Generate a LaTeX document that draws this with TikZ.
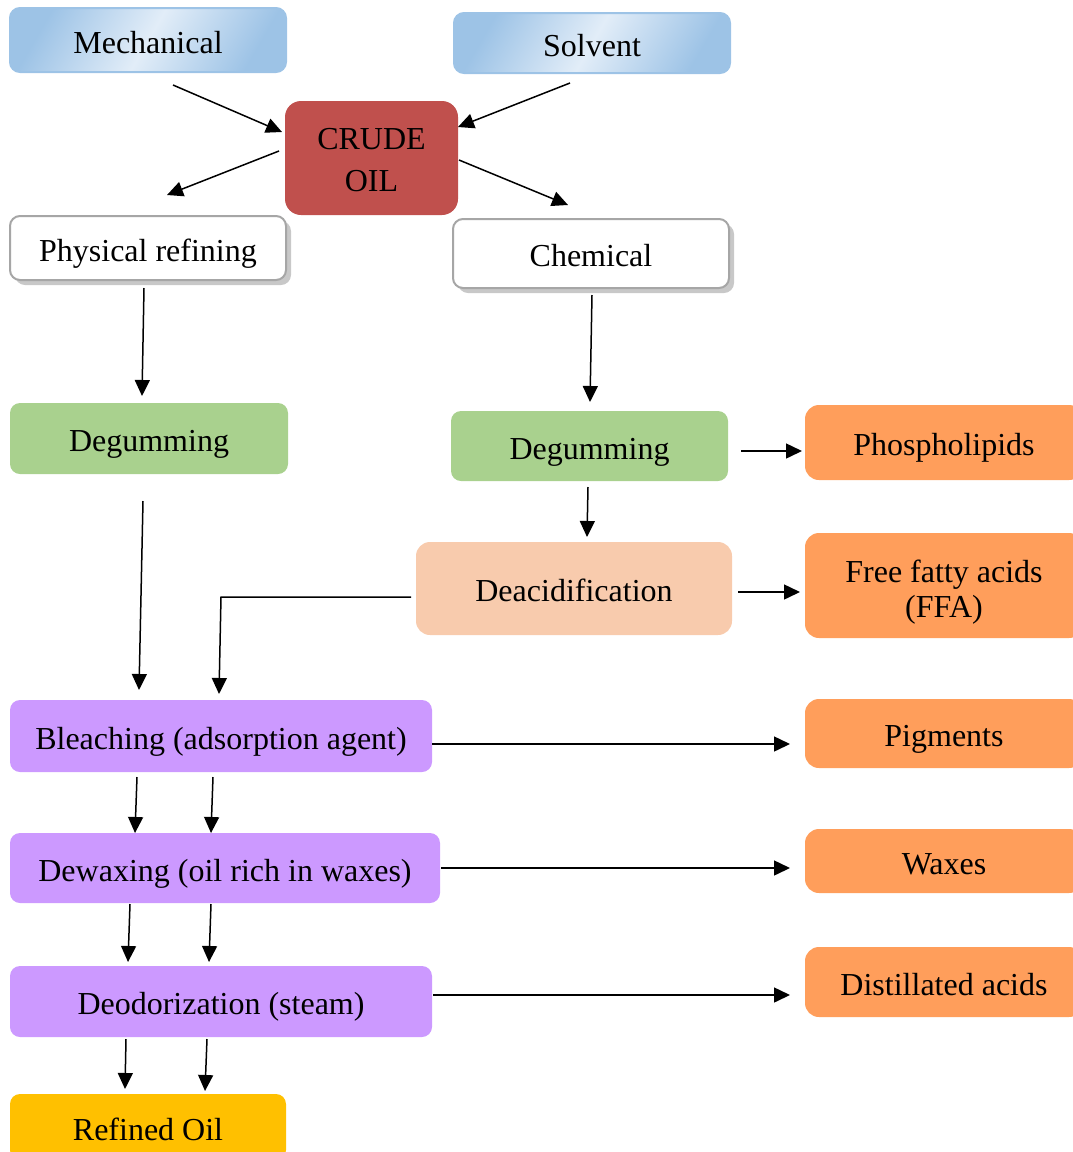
\documentclass[tikz,border=0pt]{standalone}
\usepackage{fontspec}
\setmainfont{Liberation Serif}
\usetikzlibrary{arrows.meta,shadows}
\definecolor{bluedark}{HTML}{9DC3E6}
\definecolor{bluelight}{HTML}{E2EDF8}
\definecolor{crudered}{HTML}{C0504D}
\definecolor{graybd}{HTML}{A6A6A6}
\definecolor{grayshadow}{HTML}{C8C8C8}
\definecolor{greenbox}{HTML}{A9D18E}
\definecolor{peach}{HTML}{F8CBAD}
\definecolor{orangebox}{HTML}{FF9E5B}
\definecolor{purplebox}{HTML}{CC99FF}
\definecolor{goldbox}{HTML}{FFC000}
\tikzset{
  base/.style={rectangle, rounded corners=10pt, inner sep=0pt, align=center,
    font=\fontsize{32}{40}\selectfont},
  one/.style={text height=30pt, text depth=4pt},
  bluebox/.style={base, one, draw=bluedark, line width=2pt, shading=axis,
    left color=bluedark, right color=bluedark, middle color=bluelight, shading angle=60},
  redbox/.style={base, fill=crudered, rounded corners=16pt},
  whitebox/.style={base, one, draw=graybd, line width=2pt, fill=white,
    drop shadow={shadow xshift=5pt, shadow yshift=-5pt, fill=grayshadow, opacity=1}},
  greenb/.style={base, one, fill=greenbox},
  peachb/.style={base, one, fill=peach, rounded corners=14pt},
  orangeb/.style={base, one, fill=orangebox, rounded corners=14pt},
  orangem/.style={base, fill=orangebox, rounded corners=14pt},
  purpleb/.style={base, one, fill=purplebox},
  goldb/.style={base, one, fill=goldbox},
  arr/.style={line width=1.5pt, -{Triangle[length=16pt,width=15pt]}}
}
\begin{document}
\begin{tikzpicture}[x=1pt,y=-1pt]
\useasboundingbox (0,0) rectangle (1073,1152);
\clip (0,0) rectangle (1073,1152);
% boxes
\node[bluebox, minimum width=276pt, minimum height=64pt] (mech) at (148,40) {Mechanical};
\node[bluebox, minimum width=276pt, minimum height=60pt] (solv) at (592,43) {Solvent};
\node[redbox, minimum width=173pt, minimum height=114pt] (crude) at (371.5,158) {\rule{0pt}{25pt}CRUDE\\[2pt]OIL};
\node[whitebox, minimum width=276pt, minimum height=64pt] (phys) at (148,248) {Physical refining};
\node[whitebox, minimum width=276pt, minimum height=69pt] (chem) at (591,253.5) {Chemical};
\node[greenb, minimum width=278pt, minimum height=71pt] (deg1) at (149,438.5) {Degumming};
\node[greenb, minimum width=277pt, minimum height=70pt] (deg2) at (589.5,446) {Degumming};
\node[orangeb, minimum width=278pt, minimum height=75pt] (phos) at (944,442.5) {Phospholipids};
\node[peachb, minimum width=316pt, minimum height=93pt] (deac) at (574,588.5) {Deacidification};
\node[orangem, minimum width=278pt, minimum height=105pt] (ffa) at (944,585.5) {\rule{0pt}{35pt}Free fatty acids\\[-5pt](FFA)};
\node[purpleb, minimum width=422pt, minimum height=72pt] (bleach) at (221,736) {Bleaching (adsorption agent)};
\node[orangeb, minimum width=278pt, minimum height=69pt] (pig) at (944,733.5) {Pigments};
\node[purpleb, minimum width=430pt, minimum height=70pt] (dewax) at (225,868) {Dewaxing (oil rich in waxes)};
\node[orangeb, minimum width=278pt, minimum height=64pt] (wax) at (944,861) {Waxes};
\node[purpleb, minimum width=422pt, minimum height=71pt] (deod) at (221,1001.5) {Deodorization (steam)};
\node[orangeb, minimum width=278pt, minimum height=70pt] (dist) at (944,982) {Distillated acids};
\node[goldb, minimum width=276pt, minimum height=66pt] (refined) at (148,1127) {Refined Oil};
% connector end points
\coordinate (a1s) at (173,85);   \coordinate (a1e) at (282,132);
\coordinate (a2s) at (570,83);   \coordinate (a2e) at (458,127);
\coordinate (a3s) at (279,151);  \coordinate (a3e) at (167,195);
\coordinate (a4s) at (459,160);  \coordinate (a4e) at (568,205);
\coordinate (a5s) at (144,288);  \coordinate (a5e) at (142,396);
\coordinate (a6s) at (592,295);  \coordinate (a6e) at (590,402);
\coordinate (a7s) at (143,501);  \coordinate (a7e) at (139,690);
\coordinate (a8s) at (741,451);  \coordinate (a8e) at (802,451);
\coordinate (a9s) at (588,487);  \coordinate (a9e) at (587,537);
\coordinate (a10s) at (411,597); \coordinate (a10m) at (221,597); \coordinate (a10e) at (219,694);
\coordinate (a11s) at (738,592); \coordinate (a11e) at (800,592);
\coordinate (a12s) at (432,744); \coordinate (a12e) at (790,744);
\coordinate (a13s) at (137,777); \coordinate (a13e) at (135,833);
\coordinate (a14s) at (213,777); \coordinate (a14e) at (211,833);
\coordinate (a15s) at (130,904); \coordinate (a15e) at (128,962);
\coordinate (a16s) at (211,904); \coordinate (a16e) at (209,962);
\coordinate (a17s) at (441,868); \coordinate (a17e) at (790,868);
\coordinate (a18s) at (433,995); \coordinate (a18e) at (790,995);
\coordinate (a19s) at (126,1039); \coordinate (a19e) at (125,1089);
\coordinate (a20s) at (207,1039); \coordinate (a20e) at (205,1091);
% connectors
\draw[arr] (a1s) -- (a1e);
\draw[arr] (a2s) -- (a2e);
\draw[arr] (a3s) -- (a3e);
\draw[arr] (a4s) -- (a4e);
\draw[arr] (a5s) -- (a5e);
\draw[arr] (a6s) -- (a6e);
\draw[arr] (a7s) -- (a7e);
\draw[arr] (a8s) -- (a8e);
\draw[arr] (a9s) -- (a9e);
\draw[arr] (a10s) -- (a10m) -- (a10e);
\draw[arr] (a11s) -- (a11e);
\draw[arr] (a12s) -- (a12e);
\draw[arr] (a13s) -- (a13e);
\draw[arr] (a14s) -- (a14e);
\draw[arr] (a15s) -- (a15e);
\draw[arr] (a16s) -- (a16e);
\draw[arr] (a17s) -- (a17e);
\draw[arr] (a18s) -- (a18e);
\draw[arr] (a19s) -- (a19e);
\draw[arr] (a20s) -- (a20e);
\end{tikzpicture}
\end{document}
